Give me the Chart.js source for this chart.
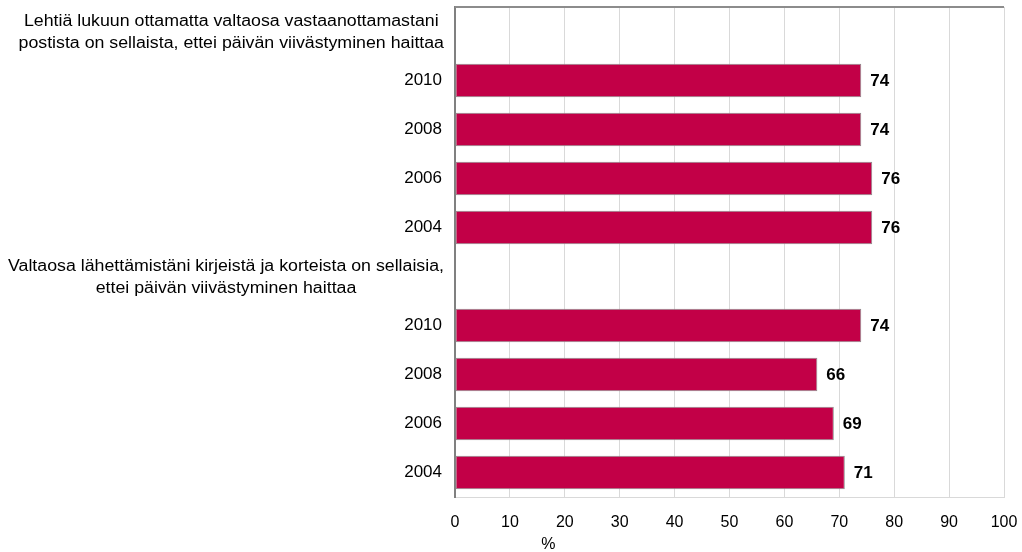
<!DOCTYPE html>
<html>
<head>
<meta charset="utf-8">
<script src="https://cdn.jsdelivr.net/npm/chart.js@4/dist/chart.umd.min.js"></script>
<style>
  html, body { margin: 0; padding: 0; background: #fff; }
  #wrap { width: 1022px; height: 552px; }
</style>
</head>
<body>
<div id="wrap"><canvas id="chart" width="1022" height="552"></canvas></div>
<script>
// kysymysotsikot (monirivisiä) ja vuodet samalla akselilla
var categories = [
    ['Lehtiä lukuun ottamatta valtaosa vastaanottamastani', 'postista on sellaista, ettei päivän viivästyminen haittaa'],
    '2010', '2008', '2006', '2004',
    ['Valtaosa lähettämistäni kirjeistä ja korteista on sellaisia,', 'ettei päivän viivästyminen haittaa'],
    '2010', '2008', '2006', '2004'
];
var values = [null, 74, 74, 76, 76, null, 74, 66, 69, 71];
var xTicks = [0, 10, 20, 30, 40, 50, 60, 70, 80, 90, 100];
var axisTitle = '%';

var FONT = '"Liberation Sans", Arial, sans-serif';

// otsikkorivit piirretään itse, keskitettynä ja hieman leveämpinä
var headerPlugin = {
    id: 'headers',
    afterDraw: function(chart) {
        var ctx = chart.ctx,
            y = chart.scales.y,
            sx = 1.11;
        ctx.save();
        ctx.font = '16px ' + FONT;
        ctx.fillStyle = '#000';
        ctx.textAlign = 'center';
        ctx.textBaseline = 'middle';
        categories.forEach(function(cat, i) {
            if (!Array.isArray(cat)) return;
            var w = 0;
            cat.forEach(function(line) { w = Math.max(w, ctx.measureText(line).width * sx); });
            var cx = 444 - w / 2,
                cy = y.getPixelForValue(i) + 1,
                lh = 22;
            cat.forEach(function(line, k) {
                ctx.save();
                ctx.translate(cx, cy + (k - (cat.length - 1) / 2) * lh);
                ctx.scale(sx, 1);
                ctx.fillText(line, 0, 0);
                ctx.restore();
            });
        });
        // akselin yksikkö
        var x = chart.scales.x;
        ctx.font = '16px ' + FONT;
        ctx.fillText(axisTitle, x.getPixelForValue(17), 545);
        ctx.restore();
    }
};

// arvot palkkien perään + yläreuna
var valuePlugin = {
    id: 'values',
    afterDatasetsDraw: function(chart) {
        var ctx = chart.ctx,
            area = chart.chartArea;
        ctx.save();
        ctx.strokeStyle = '#8c8c8c';
        ctx.lineWidth = 2;
        ctx.beginPath();
        ctx.moveTo(area.left, area.top);
        ctx.lineTo(area.right, area.top);
        ctx.stroke();
        ctx.font = 'bold 17px ' + FONT;
        ctx.fillStyle = '#000';
        ctx.textAlign = 'left';
        ctx.textBaseline = 'middle';
        chart.getDatasetMeta(0).data.forEach(function(bar, i) {
            if (values[i] == null) return;
            ctx.fillText(values[i], bar.x + 9, bar.y + 1);
        });
        ctx.restore();
    }
};

var ctx = document.getElementById('chart').getContext('2d');
var chart = new Chart(ctx, {
    type: 'bar',
    data: {
        labels: categories,
        datasets: [{
            data: values,
            backgroundColor: '#c20047',
            borderColor: '#8c8c8c',
            borderWidth: 1,
            borderSkipped: false,
            barPercentage: 0.68,
            categoryPercentage: 1
        }]
    },
    options: {
        indexAxis: 'y',
        responsive: false,
        animation: false,
        layout: { padding: { top: 7, right: 18, left: 0, bottom: 0 } },
        plugins: {
            legend: { display: false },
            tooltip: { enabled: false }
        },
        scales: {
            x: {
                min: 0,
                max: 100,
                afterBuildTicks: function(scale) {
                    scale.ticks = xTicks.map(function(v) { return { value: v }; });
                },
                afterFit: function(scale) {
                    scale.height = 55;
                    scale.paddingLeft = 0;
                    scale.paddingRight = 0;
                },
                grid: { color: '#d9d9d9', drawTicks: false },
                border: { color: '#d9d9d9', width: 1 },
                ticks: {
                    padding: 16,
                    color: '#000',
                    font: { family: FONT, size: 16 }
                }
            },
            y: {
                afterFit: function(scale) {
                    scale.width = 455;
                    scale.paddingTop = 0;
                    scale.paddingBottom = 0;
                },
                grid: { display: false, drawTicks: false },
                border: { color: '#808080', width: 2 },
                ticks: {
                    padding: 13,
                    color: '#000',
                    font: { family: FONT, size: 17 },
                    callback: function(val, i) {
                        var c = categories[i];
                        return Array.isArray(c) ? '' : c;
                    }
                }
            }
        }
    },
    plugins: [headerPlugin, valuePlugin]
});
</script>
</body>
</html>
